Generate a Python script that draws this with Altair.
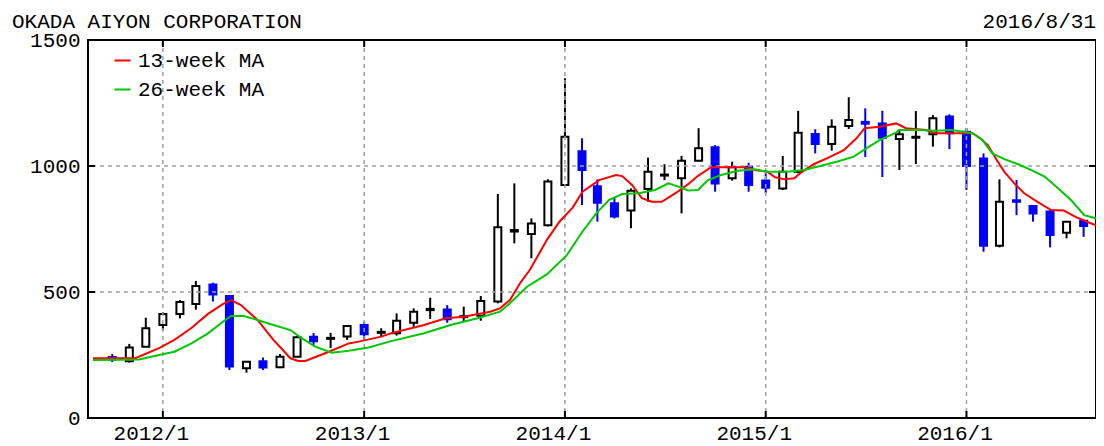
import altair as alt
import pandas as pd

company = "OKADA AIYON CORPORATION"
asof_label = "2016/8/31"
series_names = ["13-week MA", "26-week MA"]

months = [
    "2011-10-01", "2011-11-01", "2011-12-01",
    "2012-01-01", "2012-02-01", "2012-03-01", "2012-04-01", "2012-05-01", "2012-06-01",
    "2012-07-01", "2012-08-01", "2012-09-01", "2012-10-01", "2012-11-01", "2012-12-01",
    "2013-01-01", "2013-02-01", "2013-03-01", "2013-04-01", "2013-05-01", "2013-06-01",
    "2013-07-01", "2013-08-01", "2013-09-01", "2013-10-01", "2013-11-01", "2013-12-01",
    "2014-01-01", "2014-02-01", "2014-03-01", "2014-04-01", "2014-05-01", "2014-06-01",
    "2014-07-01", "2014-08-01", "2014-09-01", "2014-10-01", "2014-11-01", "2014-12-01",
    "2015-01-01", "2015-02-01", "2015-03-01", "2015-04-01", "2015-05-01", "2015-06-01",
    "2015-07-01", "2015-08-01", "2015-09-01", "2015-10-01", "2015-11-01", "2015-12-01",
    "2016-01-01", "2016-02-01", "2016-03-01", "2016-04-01", "2016-05-01", "2016-06-01",
    "2016-07-01", "2016-08-01",
]
opens = [242, 225, 283,
         369, 413, 452, 530, 484, 197, 225, 201, 243, 322, 314, 323,
         369, 338, 336, 378, 428, 431, 400, 406, 462, 740, 730, 765,
         925, 1059, 920, 852, 823, 909, 962, 951, 1021, 1074, 951, 997,
         942, 911, 977, 1127, 1087, 1159, 1175, 1169, 1107, 1112, 1126, 1196,
         1136, 1030, 684, 864, 841, 819, 735, 783]
highs = [254, 294, 398,
         420, 468, 544, 537, 488, 225, 240, 254, 325, 337, 338, 367,
         382, 356, 415, 435, 477, 448, 442, 484, 889, 931, 792, 947,
         1348, 1110, 947, 878, 911, 1033, 1007, 1040, 1150, 1083, 1017, 1013,
         971, 1040, 1219, 1146, 1185, 1273, 1229, 1219, 1143, 1218, 1202, 1205,
         1150, 1050, 947, 944, 845, 825, 782, 785]
lows = [222, 220, 280,
        349, 395, 430, 462, 190, 180, 190, 198, 243, 290, 278, 310,
        310, 323, 327, 362, 393, 378, 382, 386, 455, 693, 634, 760,
        920, 845, 779, 792, 753, 858, 944, 812, 1018, 898, 942, 898,
        892, 905, 971, 1050, 1061, 1147, 1036, 956, 984, 1008, 1077, 1067,
        905, 660, 677, 805, 779, 677, 713, 719]
closes = [232, 280, 356,
          413, 460, 524, 490, 204, 223, 200, 243, 320, 305, 318, 365,
          332, 342, 386, 422, 433, 392, 404, 464, 757, 746, 772, 938,
          1116, 984, 854, 800, 902, 977, 966, 1021, 1070, 931, 995, 925,
          914, 977, 1132, 1087, 1156, 1183, 1168, 1112, 1126, 1116, 1189, 1130,
          1000, 684, 858, 858, 812, 726, 779, 762]

ma13_dates = [
    "2011-08-27", "2011-11-12", "2011-12-25", "2012-01-22", "2012-02-22", "2012-03-23",
    "2012-04-19", "2012-05-04", "2012-05-22", "2012-06-21", "2012-07-20", "2012-08-20",
    "2012-09-03", "2012-09-16", "2012-10-29", "2012-12-04", "2012-12-22", "2013-02-01",
    "2013-02-19", "2013-04-20", "2013-05-29", "2013-07-01", "2013-08-18", "2013-09-05",
    "2013-09-23", "2013-10-11", "2013-10-29", "2013-11-29", "2013-12-22", "2014-01-15",
    "2014-02-02", "2014-03-04", "2014-04-04", "2014-04-15", "2014-05-03", "2014-05-21",
    "2014-06-08", "2014-06-26", "2014-07-21", "2014-08-13", "2014-08-31", "2014-09-24",
    "2014-11-24", "2014-12-12", "2015-01-04", "2015-01-18", "2015-02-04", "2015-02-22",
    "2015-03-08", "2015-03-30", "2015-04-22", "2015-05-23", "2015-06-15", "2015-06-30",
    "2015-07-27", "2015-08-26", "2015-09-13", "2015-10-19", "2015-11-06", "2016-01-12",
    "2016-01-26", "2016-02-09", "2016-02-25", "2016-03-10", "2016-03-28", "2016-04-15",
    "2016-05-09", "2016-06-03", "2016-06-26", "2016-07-19", "2016-08-14", "2016-08-27",
]
ma13_values = [
    237, 237, 277, 310, 357, 413, 452, 468, 448, 389,
    310, 237, 226, 226, 263, 296, 303, 323, 336, 369,
    396, 402, 422, 435, 468, 534, 587, 706, 779, 835,
    898, 944, 964, 960, 925, 872, 858, 858, 892, 928,
    961, 995, 995, 984, 977, 955, 947, 951, 977, 1008,
    1030, 1063, 1110, 1150, 1156, 1169, 1150, 1143, 1130, 1130,
    1110, 1083, 1024, 977, 931, 892, 858, 825, 823, 796,
    773, 762,
]
ma26_dates = [
    "2011-08-27", "2011-11-19", "2011-12-25", "2012-01-22", "2012-02-22", "2012-03-23",
    "2012-04-19", "2012-05-04", "2012-05-27", "2012-06-21", "2012-07-20", "2012-08-20",
    "2012-09-07", "2012-10-04", "2012-11-03", "2012-12-04", "2013-01-09", "2013-02-19",
    "2013-04-20", "2013-06-07", "2013-07-26", "2013-09-05", "2013-09-23", "2013-10-24",
    "2013-11-29", "2014-01-04", "2014-02-02", "2014-02-27", "2014-03-22", "2014-04-15",
    "2014-05-15", "2014-06-14", "2014-07-08", "2014-07-26", "2014-08-13", "2014-08-31",
    "2014-09-18", "2014-10-12", "2014-11-11", "2014-12-12", "2015-01-04", "2015-02-09",
    "2015-03-12", "2015-04-10", "2015-05-10", "2015-06-10", "2015-07-03", "2015-07-27",
    "2015-08-26", "2015-08-31", "2015-10-06", "2015-11-06", "2015-12-06", "2016-01-12",
    "2016-01-30", "2016-02-17", "2016-03-10", "2016-04-03", "2016-04-28", "2016-05-22",
    "2016-06-14", "2016-07-09", "2016-08-02", "2016-08-27",
]
ma26_values = [
    230, 232, 250, 263, 296, 336, 382, 405, 405, 389,
    369, 349, 320, 283, 259, 267, 280, 305, 336, 369,
    396, 422, 455, 521, 570, 645, 740, 812, 865, 889,
    892, 905, 931, 918, 903, 905, 944, 964, 981, 987,
    977, 977, 984, 1000, 1017, 1037, 1070, 1103, 1132, 1143,
    1143, 1140, 1143, 1130, 1103, 1050, 1027, 1008, 984, 958,
    915, 865, 805, 790,
]

year_ticks = ["2012-01-01", "2013-01-01", "2014-01-01", "2015-01-01", "2016-01-01"]
value_grid = [500, 1000]
y_ticks = [0, 500, 1000, 1500]

# ---------------- tables ----------------
candles = pd.DataFrame({"date": months, "open": opens, "high": highs,
                        "low": lows, "close": closes})
ma = pd.concat([
    pd.DataFrame({"date": ma13_dates, "value": ma13_values, "series": series_names[0]}),
    pd.DataFrame({"date": ma26_dates, "value": ma26_values, "series": series_names[1]}),
])
years_df = pd.DataFrame({"date": year_ticks})
vals_df = pd.DataFrame({"value": value_grid})
labels_df = pd.DataFrame({"company": [company], "asof": [asof_label]})

W, H = 1008, 378
FONT = "Liberation Mono"
FS = 21

xscale = alt.Scale(type="utc", domain=[alt.DateTime(year=2011, month=8, date=27, utc=True),
                                       alt.DateTime(year=2016, month=8, date=14, hours=10, utc=True)])
yscale = alt.Scale(domain=[0, 1500], nice=False, zero=False)

xaxis = alt.Axis(values=[alt.DateTime(year=int(d[:4]), month=1, date=1, utc=True) for d in year_ticks],
                 format="%Y/%-m", formatType="time", title=None, grid=False, domain=False, ticks=False,
                 labelFont=FONT, labelFontSize=FS, labelColor="black", labelPadding=4, labelOffset=-12,
                 labelFlush=False, labelOverlap=False)
yaxis = alt.Axis(values=y_ticks, format="d", title=None, grid=False, domain=False, ticks=False,
                 labelFont=FONT, labelFontSize=FS, labelColor="black", labelPadding=8,
                 labelFlush=False, labelOverlap=False)

X = alt.X("date:T", scale=xscale, axis=xaxis)
up = "datum.close >= datum.open"

wicks = alt.Chart(candles).mark_rule(strokeWidth=2).encode(
    x=X,
    y=alt.Y("low:Q", scale=yscale, axis=yaxis),
    y2="high:Q",
    color=alt.condition(up, alt.value("black"), alt.value("#0000ff")),
)
bodies = alt.Chart(candles).mark_bar(size=7, strokeWidth=2).encode(
    x=X,
    y=alt.Y("open:Q", scale=yscale, axis=yaxis),
    y2="close:Q",
    fill=alt.condition(up, alt.value("white"), alt.value("#0000ff")),
    stroke=alt.condition(up, alt.value("black"), alt.value("#0000ff")),
)

grid_style = dict(color="#a0a0a0", strokeWidth=1.5, strokeDash=[4, 4])
vgrid = alt.Chart(years_df).mark_rule(**grid_style).encode(x=X)
hgrid = alt.Chart(vals_df).mark_rule(**grid_style).encode(y=alt.Y("value:Q", scale=yscale, axis=yaxis))

lines = alt.Chart(ma).mark_line(strokeWidth=2, clip=True).encode(
    x=X,
    y=alt.Y("value:Q", scale=yscale, axis=yaxis),
    color=alt.Color("series:N",
                    scale=alt.Scale(domain=series_names, range=["#ff0000", "#00c800"]),
                    legend=alt.Legend(title=None, orient="none", legendX=24, legendY=10,
                                      padding=0, symbolType="stroke", symbolSize=256,
                                      symbolStrokeWidth=2, labelFont=FONT, labelFontSize=FS,
                                      labelColor="black", labelOffset=5, rowPadding=7)),
)

tick_style = dict(color="black", strokeWidth=2)
xt_bottom = alt.Chart(years_df).mark_rule(**tick_style).encode(x=X, y=alt.value(H), y2=alt.value(H - 7))
xt_top = alt.Chart(years_df).mark_rule(**tick_style).encode(x=X, y=alt.value(0), y2=alt.value(7))
yt_left = alt.Chart(vals_df).mark_rule(**tick_style).encode(
    y=alt.Y("value:Q", scale=yscale, axis=yaxis), x=alt.value(0), x2=alt.value(7))
yt_right = alt.Chart(vals_df).mark_rule(**tick_style).encode(
    y=alt.Y("value:Q", scale=yscale, axis=yaxis), x=alt.value(W), x2=alt.value(W - 7))

title_text = alt.Chart(labels_df).mark_text(align="left", baseline="alphabetic", font=FONT,
                                            fontSize=FS, color="black").encode(
    text="company:N", x=alt.value(-76), y=alt.value(-12))
date_text = alt.Chart(labels_df).mark_text(align="right", baseline="alphabetic", font=FONT,
                                           fontSize=FS, color="black").encode(
    text="asof:N", x=alt.value(W), y=alt.value(-12))

chart = alt.layer(
    wicks, bodies, vgrid, hgrid, lines, xt_bottom, xt_top, yt_left, yt_right, title_text, date_text
).properties(
    width=W, height=H,
    autosize=alt.AutoSizeParams(type="none"),
    padding={"left": 80, "top": 32, "right": 0, "bottom": 26},
    background="white",
).configure_view(stroke="black", strokeWidth=2)

chart.save("out.html", embed_options={"renderer": "svg", "actions": False})
